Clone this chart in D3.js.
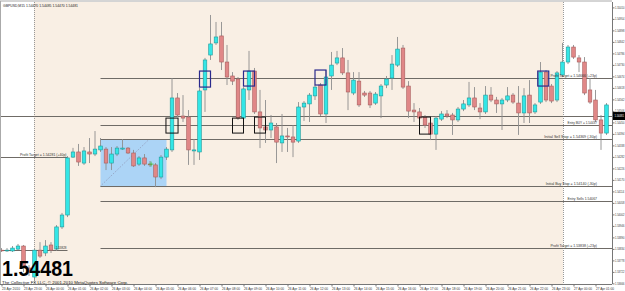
<!DOCTYPE html>
<html><head><meta charset="utf-8">
<script src="https://cdn.jsdelivr.net/npm/d3@7/dist/d3.min.js"></script>
<style>html,body{margin:0;padding:0;background:#fff;}svg{display:block;font-family:Arial,"Liberation Sans",sans-serif;}</style>
</head><body>
<script>
// ---- DATA (GBPUSD, M15) ----
const symbol = "GBPUSD,M15";
const headerPrices = ["1.54470","1.54485","1.54470","1.54481"];
const lastPrice = 1.54481;
const open  = [1.53828,1.53826,1.53824,1.53833,1.53848,1.53741,1.53697,1.53828,1.53814,1.53853,1.53833,1.53941,1.53999,1.54281,1.54306,1.54252,1.54306,1.54296,1.54316,1.54320,1.54252,1.54296,1.54320,1.54325,1.54301,1.54247,1.54277,1.54247,1.54243,1.54184,1.54281,1.54316,1.54569,1.54481,1.54476,1.54311,1.54306,1.54608,1.54778,1.54837,1.54871,1.54744,1.54676,1.54661,1.54471,1.54608,1.54700,1.54501,1.54428,1.54413,1.54428,1.54350,1.54384,1.54379,1.54359,1.54525,1.54540,1.54579,1.54632,1.54491,1.54676,1.54739,1.54764,1.54691,1.54593,1.54651,1.54593,1.54593,1.54544,1.54579,1.54632,1.54666,1.54729,1.54812,1.54627,1.54510,1.54501,1.54476,1.54447,1.54393,1.54466,1.54491,1.54486,1.54462,1.54515,1.54535,1.54569,1.54520,1.54501,1.54583,1.54559,1.54540,1.54559,1.54583,1.54544,1.54496,1.54583,1.54501,1.54549,1.54695,1.54627,1.54559,1.54681,1.54744,1.54817,1.54764,1.54744,1.54608,1.54559,1.54462,1.54398];
const high  = [1.53838,1.53838,1.53848,1.53858,1.53853,1.53755,1.53833,1.53867,1.53877,1.53867,1.53950,1.54009,1.54286,1.54326,1.54345,1.54330,1.54374,1.54408,1.54374,1.54330,1.54330,1.54335,1.54369,1.54330,1.54316,1.54286,1.54296,1.54262,1.54252,1.54291,1.54330,1.54666,1.54593,1.54583,1.54510,1.54369,1.54617,1.54764,1.54973,1.54939,1.54939,1.54827,1.54695,1.54671,1.54622,1.54798,1.54715,1.54608,1.54559,1.54486,1.54447,1.54491,1.54423,1.54437,1.54549,1.54554,1.54593,1.54632,1.54642,1.54705,1.54793,1.54798,1.54812,1.54754,1.54695,1.54695,1.54603,1.54603,1.54598,1.54637,1.54676,1.54778,1.54866,1.54827,1.54651,1.54544,1.54520,1.54486,1.54457,1.54481,1.54505,1.54510,1.54496,1.54525,1.54559,1.54647,1.54622,1.54544,1.54627,1.54622,1.54574,1.54569,1.54622,1.54593,1.54627,1.54617,1.54656,1.54544,1.54744,1.54705,1.54637,1.54700,1.54837,1.54827,1.54827,1.54778,1.54768,1.54666,1.54608,1.54486,1.54544];
const low   = [1.53819,1.53819,1.53819,1.53828,1.53721,1.53702,1.53682,1.53790,1.53799,1.53814,1.53824,1.53931,1.53989,1.54277,1.54238,1.54243,1.54252,1.54286,1.54306,1.54218,1.54218,1.54286,1.54316,1.54296,1.54233,1.54238,1.54238,1.54233,1.54135,1.54174,1.54267,1.54306,1.54476,1.54452,1.54243,1.54243,1.54267,1.54501,1.54754,1.54827,1.54705,1.54632,1.54632,1.54462,1.54437,1.54559,1.54491,1.54325,1.54350,1.54374,1.54252,1.54306,1.54306,1.54281,1.54350,1.54457,1.54452,1.54559,1.54481,1.54447,1.54608,1.54729,1.54681,1.54510,1.54583,1.54525,1.54574,1.54520,1.54535,1.54471,1.54617,1.54608,1.54720,1.54613,1.54471,1.54452,1.54462,1.54423,1.54364,1.54316,1.54457,1.54471,1.54389,1.54452,1.54505,1.54525,1.54510,1.54466,1.54491,1.54549,1.54496,1.54413,1.54549,1.54540,1.54389,1.54447,1.54447,1.54491,1.54540,1.54549,1.54544,1.54549,1.54671,1.54734,1.54759,1.54695,1.54583,1.54540,1.54452,1.54316,1.54389];
const close = [1.53826,1.53828,1.53838,1.53848,1.53741,1.53721,1.53828,1.53799,1.53848,1.53828,1.53941,1.53999,1.54277,1.54306,1.54257,1.54311,1.54296,1.54320,1.54335,1.54252,1.54296,1.54325,1.54325,1.54301,1.54238,1.54277,1.54247,1.54245,1.54184,1.54281,1.54320,1.54569,1.54486,1.54471,1.54316,1.54316,1.54603,1.54754,1.54832,1.54866,1.54744,1.54671,1.54651,1.54471,1.54613,1.54700,1.54501,1.54423,1.54413,1.54447,1.54354,1.54384,1.54379,1.54354,1.54525,1.54544,1.54583,1.54622,1.54491,1.54671,1.54729,1.54764,1.54691,1.54598,1.54656,1.54535,1.54583,1.54535,1.54588,1.54627,1.54661,1.54734,1.54807,1.54622,1.54505,1.54501,1.54471,1.54437,1.54393,1.54471,1.54491,1.54481,1.54462,1.54515,1.54540,1.54569,1.54525,1.54501,1.54583,1.54559,1.54540,1.54559,1.54579,1.54549,1.54496,1.54579,1.54496,1.54535,1.54695,1.54559,1.54554,1.54691,1.54744,1.54817,1.54768,1.54744,1.54593,1.54549,1.54462,1.54398,1.54535];

const timeLabels = ["23 Apr 2010","23 Apr 23:00","26 Apr 00:00","26 Apr 01:00","26 Apr 02:00","26 Apr 03:00","26 Apr 04:00","26 Apr 05:00","26 Apr 06:00","26 Apr 07:00","26 Apr 08:00","26 Apr 09:00","26 Apr 10:00","26 Apr 11:00","26 Apr 12:00","26 Apr 13:00","26 Apr 14:00","26 Apr 15:00","26 Apr 16:00","26 Apr 17:00","26 Apr 18:00","26 Apr 19:00","26 Apr 20:00","26 Apr 21:00","26 Apr 22:00","26 Apr 23:00","27 Apr 00:00","27 Apr 01:00"];
const barsPerLabel = 4;
const priceTicks = [1.55010,1.54954,1.54898,1.54842,1.54786,1.54730,1.54674,1.54618,1.54562,1.54506,1.54450,1.54394,1.54338,1.54282,1.54226,1.54170,1.54114,1.54058,1.54002,1.53946,1.53890,1.53834,1.53778,1.53722,1.53666];

// horizontal level objects: price, from bar, to bar (null = right edge), label
const levelPrices = [1.54666, 1.54437, 1.54369, 1.54140, 1.54067, 1.53838, 1.54281, 1.53828];
const levelFrom   = [18, 18, 18, 18, 18, 18, -1, -1];
const levelTo     = [null, null, null, null, null, null, 12, 12];
const levelLabels = ["Profit Target = 1.54666 (+23p)","Entry BUY = 1.54437","Initial Sell Stop = 1.54369 (-30p)","Initial Buy Stop = 1.54140 (-30p)","Entry Sells 1.54067","Profit Target = 1.53838 (+23p)","Profit Target = 1.54281 (+40p)","1.53828"];

// session shading (bar index)
const sessionStart = 5.9, sessionEnd = 102.1;
// rectangle zone
const zoneBars = [18, 30], zonePrices = [1.54369, 1.54135];
const trendFrom = [18, 1.54140], trendTo = [26.7, 1.54364];
// marker boxes: [barFrom, barTo, priceTop, priceBottom]
const blackBoxes = [[29.9,32.1,1.54471,1.54398],[42,44,1.54471,1.54398],[46,48,1.54476,1.54398],[76,78,1.54476,1.54393]];
const navyBoxes  = [[36,38,1.54700,1.54622],[44,46,1.54700,1.54627],[57,59,1.54705,1.54632],[97.5,99.5,1.54700,1.54627]];
const crossMark = [27.2, 1.54247];

// ---- DRAW ----
const W = 625, H = 291;
const plotR = 612, plotT = 2, plotB = 284;
const svg = d3.select("body").append("svg").attr("width", W).attr("height", H);
const x = d3.scaleLinear().domain([0, 110]).range([1.5, 606.5]);
const y = d3.scaleLinear().domain([1.53629, 1.55046]).range([291, 0]);

svg.append("rect").attr("width", W).attr("height", H).attr("fill", "#fff");
svg.append("rect").attr("x", x(sessionStart)).attr("y", plotT).attr("width", x(sessionEnd) - x(sessionStart)).attr("height", plotB - plotT).attr("fill", "#f9efe4");

// zone
svg.append("rect").attr("x", x(zoneBars[0])).attr("y", y(zonePrices[0]))
  .attr("width", x(zoneBars[1]) - x(zoneBars[0])).attr("height", y(zonePrices[1]) - y(zonePrices[0]))
  .attr("fill", "#acd4f6");
svg.append("line").attr("x1", x(trendFrom[0])).attr("y1", y(trendFrom[1])).attr("x2", x(trendTo[0])).attr("y2", y(trendTo[1]))
  .attr("stroke", "#8a8aa8").attr("stroke-width", 0.8).attr("stroke-dasharray", "1,1.5");

// session separators
[sessionStart, sessionEnd].forEach(b => {
  svg.append("line").attr("x1", Math.round(x(b)) + 0.5).attr("x2", Math.round(x(b)) + 0.5).attr("y1", plotT).attr("y2", plotB)
    .attr("stroke", "#999").attr("stroke-width", 1).attr("stroke-dasharray", "1,1");
});

// levels
levelPrices.forEach((p, k) => {
  const x1 = levelFrom[k] < 0 ? 0 : x(levelFrom[k]);
  const x2 = levelTo[k] == null ? plotR : x(levelTo[k]);
  const yy = Math.round(y(p)) + 0.5;
  svg.append("line").attr("x1", x1).attr("x2", x2).attr("y1", yy).attr("y2", yy).attr("stroke", "#6f6b66").attr("stroke-width", 1);
});
// bid line
svg.append("line").attr("x1", 0).attr("x2", plotR).attr("y1", Math.round(y(lastPrice)) + 0.5).attr("y2", Math.round(y(lastPrice)) + 0.5)
  .attr("stroke", "#6f6b66").attr("stroke-width", 1);

// candles
const bars = d3.range(open.length).map(i => ({i, o: open[i], h: high[i], l: low[i], c: close[i]}));
const g = svg.append("g");
g.selectAll("line.w").data(bars).join("line")
  .attr("x1", d => x(d.i)).attr("x2", d => x(d.i)).attr("y1", d => y(d.h)).attr("y2", d => y(d.l))
  .attr("stroke", "#8d8d8d").attr("stroke-width", 0.9);
const bw = 3.6;
g.selectAll("rect.b").data(bars).join("rect")
  .attr("x", d => x(d.i) - bw / 2).attr("width", bw)
  .attr("y", d => y(Math.max(d.o, d.c))).attr("height", d => Math.max(0.8, Math.abs(y(d.o) - y(d.c))))
  .attr("fill", d => d.c >= d.o ? "#33e6e6" : "#e08787")
  .attr("stroke", d => d.c >= d.o ? "#1e9a9a" : "#a85d5d").attr("stroke-width", 0.6);

// marker boxes
blackBoxes.forEach(b => svg.append("rect").attr("x", x(b[0])).attr("y", y(b[2])).attr("width", x(b[1]) - x(b[0])).attr("height", y(b[3]) - y(b[2]))
  .attr("fill", "none").attr("stroke", "#111").attr("stroke-width", 1));
navyBoxes.forEach(b => svg.append("rect").attr("x", x(b[0])).attr("y", y(b[2])).attr("width", x(b[1]) - x(b[0])).attr("height", y(b[3]) - y(b[2]))
  .attr("fill", "none").attr("stroke", "#2a2a8c").attr("stroke-width", 1.2));

// green cross
const cx = x(crossMark[0]), cy = y(crossMark[1]);
svg.append("path").attr("d", `M${cx-2.5},${cy}H${cx+2.5}M${cx},${cy-2.5}V${cy+2.5}`).attr("stroke", "#44cc44").attr("stroke-width", 0.8);

// level labels
levelPrices.forEach((p, k) => {
  const right = levelTo[k] == null ? 597 : x(levelTo[k]) - 1;
  const txt = levelLabels[k];
  svg.append("text").attr("x", right).attr("y", y(p) - 1).attr("text-anchor", "end")
    .attr("font-size", 4).attr("fill", "#333").attr("textLength", txt.length * 1.55).attr("lengthAdjust", "spacingAndGlyphs").text(txt);
});

// header
const hdr = symbol + "  " + headerPrices.join(" ");
svg.append("text").attr("x", 3).attr("y", 6.5).attr("font-size", 4).attr("fill", "#222").attr("textLength", 75).attr("lengthAdjust", "spacingAndGlyphs").text(hdr);

// frame
svg.append("line").attr("x1", 0).attr("x2", plotR).attr("y1", 1).attr("y2", 1).attr("stroke", "#aaa");
svg.append("line").attr("x1", 0.5).attr("x2", 0.5).attr("y1", 1).attr("y2", plotB).attr("stroke", "#aaa");

// y axis
const yAxis = d3.axisRight(y).tickValues(priceTicks).tickSize(2).tickFormat(d3.format(".5f"));
const ya = svg.append("g").attr("transform", `translate(${plotR + 0.5},0)`).call(yAxis);
ya.select(".domain").attr("stroke", "#777").attr("d", `M0,${plotT}V${plotB}`);
ya.selectAll(".tick line").attr("stroke", "#777");
ya.selectAll(".tick text").attr("font-size", 2.6).attr("fill", "#333").attr("x", 2.5);
// current price highlight
const py = y(lastPrice);
svg.append("rect").attr("x", plotR + 1).attr("y", py - 4).attr("width", W - plotR).attr("height", 8).attr("fill", "#000");
svg.append("text").attr("x", plotR + 2.5).attr("y", py + 1).attr("font-size", 2.6).attr("fill", "#fff").text(d3.format(".5f")(lastPrice));

// x axis
const tickBars = timeLabels.map((t, k) => k * barsPerLabel);
const xAxis = d3.axisBottom(x).tickValues(tickBars).tickSize(2).tickFormat((d, k) => timeLabels[k]);
const xa = svg.append("g").attr("transform", `translate(0,${plotB + 0.5})`).call(xAxis);
xa.select(".domain").attr("stroke", "#777").attr("d", `M0,0H${plotR}`);
xa.selectAll(".tick line").attr("stroke", "#777");
xa.selectAll(".tick text").attr("font-size", 4).attr("fill", "#333").attr("text-anchor", "start").attr("y", 3).attr("dy", "0.71em")
  .attr("textLength", 18).attr("lengthAdjust", "spacingAndGlyphs");

// big price and copyright
svg.append("text").attr("x", 2).attr("y", 275.5).attr("font-size", 22).attr("font-weight", "bold").attr("fill", "#000")
  .attr("textLength", 71).attr("lengthAdjust", "spacingAndGlyphs").text(d3.format(".5f")(lastPrice));
svg.append("text").attr("x", 2).attr("y", 283.6).attr("font-size", 4).attr("fill", "#111")
  .attr("textLength", 126).attr("lengthAdjust", "spacingAndGlyphs").text("The Collective FX LLC, © 2001-2010 MetaQuotes Software Corp.");
</script>
</body></html>
